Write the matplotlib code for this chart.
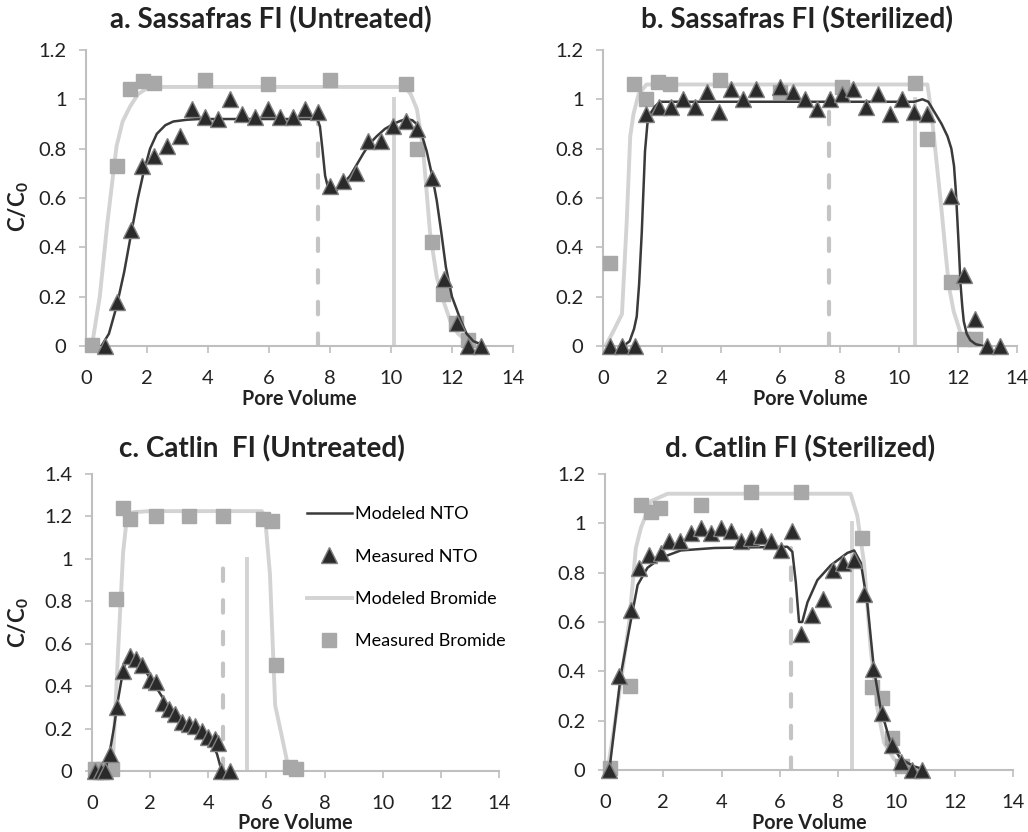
import matplotlib
matplotlib.use("Agg")
import matplotlib.pyplot as plt

plt.rcParams['font.family'] = ['Lato', 'DejaVu Sans']
plt.rcParams['mathtext.fontset'] = 'custom'
plt.rcParams['mathtext.rm'] = 'Lato'
plt.rcParams['mathtext.bf'] = 'Lato:bold'

# ---- a. Sassafras FI (Untreated) ----
a_nto_x = [0.63, 1.03, 1.48, 1.83, 2.23, 2.67, 3.08, 3.49, 3.89, 4.32, 4.71, 5.13, 5.54, 5.96,
           6.36, 6.78, 7.18, 7.62, 8.0, 8.44, 8.85, 9.26, 9.66, 10.08, 10.48, 10.86, 11.33,
           11.74, 12.15, 12.54, 12.94]
a_nto_y = [0, 0.18, 0.47, 0.73, 0.77, 0.81, 0.85, 0.96, 0.93, 0.92, 1.0, 0.94, 0.93, 0.96,
           0.93, 0.93, 0.96, 0.95, 0.65, 0.67, 0.70, 0.83, 0.83, 0.89, 0.91, 0.88, 0.68,
           0.27, 0.095, 0, 0]
a_br_x = [0.19, 1.03, 1.44, 1.86, 2.23, 3.9, 5.96, 8.0, 10.48, 10.86, 11.33, 11.71, 12.12, 12.54]
a_br_y = [0.005, 0.73, 1.04, 1.075, 1.065, 1.08, 1.06, 1.08, 1.06, 0.80, 0.42, 0.21, 0.095, 0.025]
a_mod_nto_x = [0.5, 0.75, 1.0, 1.25, 1.5, 1.7, 1.88, 2.1, 2.32, 2.6, 2.86, 3.3, 3.74, 5.0, 6.5,
               7.5, 7.6, 7.67, 7.75, 7.84, 7.92, 8.0, 8.2, 8.45, 8.66, 8.9, 9.09, 9.3, 9.53,
               9.8, 10.08, 10.3, 10.5, 10.7, 10.84, 11.0, 11.17, 11.35, 11.5, 11.65, 11.8,
               12.0, 12.15, 12.3, 12.48, 12.7, 12.9]
a_mod_nto_y = [0, 0.05, 0.16, 0.3, 0.47, 0.6, 0.70, 0.8, 0.86, 0.895, 0.91, 0.917, 0.92, 0.92,
               0.92, 0.92, 0.915, 0.89, 0.8, 0.69, 0.65, 0.63, 0.63, 0.66, 0.69, 0.74, 0.78,
               0.82, 0.85, 0.88, 0.90, 0.912, 0.92, 0.915, 0.90, 0.86, 0.79, 0.69, 0.59,
               0.46, 0.32, 0.2, 0.15, 0.1, 0.05, 0.02, 0.01]
a_mod_br_x = [0.19, 0.45, 0.7, 1.0, 1.2, 1.44, 1.7, 2.0, 2.5, 10.46, 10.65, 10.85, 11.05,
              11.28, 11.5, 11.7, 11.95, 12.2, 12.6, 13.0]
a_mod_br_y = [0, 0.2, 0.5, 0.81, 0.91, 0.97, 1.02, 1.045, 1.05, 1.05, 1.02, 0.96, 0.8,
              0.46, 0.28, 0.19, 0.1, 0.05, 0.01, 0]
a_dash_x = 7.62
a_solid_x = 10.1

# ---- b. Sassafras FI (Sterilized) ----
b_nto_x = [0.22, 0.64, 1.08, 1.47, 1.89, 2.31, 2.70, 3.12, 3.53, 3.93, 4.34, 4.75, 5.16, 6.0,
           6.41, 6.84, 7.25, 7.68, 8.07, 8.46, 8.88, 9.3, 9.71, 10.11, 10.53, 10.94, 11.78,
           12.2, 12.59, 13.0, 13.43]
b_nto_y = [0, 0, 0, 0.94, 0.97, 0.97, 1.0, 0.97, 1.03, 0.95, 1.04, 1.0, 1.04, 1.05,
           1.03, 1.0, 0.96, 1.0, 1.02, 1.04, 0.97, 1.02, 0.94, 1.0, 0.95, 0.94, 0.61,
           0.29, 0.11, 0, 0]
b_br_x = [0.22, 1.05, 1.47, 1.87, 2.26, 3.96, 6.0, 8.07, 10.55, 10.97, 11.78, 12.2, 12.59]
b_br_y = [0.335, 1.06, 1.0, 1.07, 1.06, 1.08, 1.03, 1.05, 1.065, 0.84, 0.26, 0.027, 0.027]
b_mod_nto_x = [0.69, 0.9, 1.05, 1.14, 1.22, 1.31, 1.42, 1.5, 1.59, 1.75, 1.92, 2.3, 5.0, 8.0,
               10.53, 10.8, 11.0, 11.2, 11.45, 11.65, 11.78, 11.87, 11.93, 11.98, 12.04,
               12.09, 12.15, 12.2, 12.3, 12.42, 12.6, 12.87]
b_mod_nto_y = [0, 0.02, 0.07, 0.12, 0.25, 0.46, 0.79, 0.9, 0.94, 0.97, 0.99, 0.99, 0.99, 0.99,
               0.99, 1.0, 0.99, 0.95, 0.9, 0.85, 0.8, 0.73, 0.63, 0.52, 0.38, 0.25, 0.16,
               0.1, 0.05, 0.024, 0.008, 0]
b_mod_br_x = [0.08, 0.35, 0.64, 0.8, 0.92, 1.03, 1.2, 1.47, 2.0, 10.97, 11.1, 11.25, 11.45,
              11.6, 11.7, 11.86, 12.1, 12.27]
b_mod_br_y = [0, 0.06, 0.13, 0.5, 0.85, 0.94, 1.02, 1.06, 1.06, 1.06, 0.95, 0.78, 0.55,
              0.36, 0.24, 0.14, 0.05, 0.01]
b_dash_x = 7.65
b_solid_x = 10.55

# ---- c. Catlin FI (Untreated) ----
c_nto_x = [0.1, 0.3, 0.45, 0.61, 0.86, 1.07, 1.3, 1.5, 1.73, 1.98, 2.2, 2.43, 2.64, 2.86, 3.09,
           3.32, 3.55, 3.77, 3.99, 4.22, 4.34, 4.45, 4.76]
c_nto_y = [0, 0, 0, 0.08, 0.30, 0.47, 0.54, 0.53, 0.50, 0.43, 0.42, 0.32, 0.29, 0.27, 0.23,
           0.22, 0.21, 0.19, 0.16, 0.15, 0.13, 0, 0]
c_br_x = [0.1, 0.36, 0.69, 0.82, 1.07, 1.32, 2.2, 3.34, 4.5, 5.88, 6.18, 6.33, 6.81, 7.03]
c_br_y = [0.01, 0.008, 0.01, 0.81, 1.24, 1.19, 1.20, 1.20, 1.20, 1.19, 1.18, 0.50, 0.02, 0.008]
c_mod_nto_x = [0.0, 0.45, 0.61, 0.75, 0.9, 1.09, 1.3, 1.64, 2.09, 2.55, 3.23, 3.8, 4.14, 4.3,
               4.42, 4.48]
c_mod_nto_y = [0, 0, 0.09, 0.2, 0.34, 0.49, 0.54, 0.51, 0.42, 0.32, 0.23, 0.18, 0.13, 0.08,
               0.02, 0]
c_mod_br_x = [0.0, 0.7, 0.9, 1.07, 1.18, 1.41, 2.0, 5.84, 5.95, 6.12, 6.3, 6.52, 6.75, 6.86]
c_mod_br_y = [0, 0, 0.57, 1.03, 1.17, 1.22, 1.225, 1.225, 1.2, 0.93, 0.31, 0.17, 0.02, 0]
c_dash_x = 4.5
c_solid_x = 5.33

# ---- d. Catlin FI (Sterilized) ----
d_nto_x = [0.15, 0.47, 0.89, 1.18, 1.52, 1.92, 2.21, 2.58, 2.95, 3.29, 3.63, 3.98, 4.32, 4.66,
           5.0, 5.35, 5.69, 6.03, 6.41, 6.74, 7.12, 7.47, 7.84, 8.18, 8.53, 8.89, 9.21, 9.52,
           9.86, 10.17, 10.55, 10.89]
d_nto_y = [0, 0.38, 0.65, 0.82, 0.87, 0.88, 0.93, 0.93, 0.96, 0.98, 0.96, 0.98, 0.97, 0.93,
           0.94, 0.95, 0.93, 0.89, 0.97, 0.55, 0.63, 0.695, 0.81, 0.84, 0.85, 0.715, 0.41, 0.23,
           0.10, 0.034, 0, 0]
d_br_x = [0.18, 0.87, 1.23, 1.58, 1.9, 3.29, 5.0, 6.74, 8.83, 9.18, 9.52, 9.86, 10.21]
d_br_y = [0.007, 0.34, 1.075, 1.047, 1.063, 1.075, 1.126, 1.129, 0.94, 0.336, 0.29, 0.13, 0.015]
d_mod_nto_x = [0.15, 0.55, 0.83, 1.12, 1.46, 1.92, 2.6, 3.75, 6.26, 6.43, 6.55, 6.66, 6.77,
               6.95, 7.29, 7.75, 8.32, 8.55, 8.78, 9.0, 9.23, 9.46, 9.8, 10.15, 10.6, 10.83]
d_mod_nto_y = [0, 0.39, 0.57, 0.75, 0.82, 0.86, 0.89, 0.90, 0.905, 0.885, 0.76, 0.60, 0.60,
               0.68, 0.77, 0.83, 0.88, 0.89, 0.84, 0.68, 0.41, 0.25, 0.11, 0.045, 0.015, 0.007]
d_mod_br_x = [0.09, 0.43, 0.83, 1.06, 1.23, 1.58, 2.15, 8.43, 8.66, 8.89, 9.12, 9.35, 9.58,
              9.92, 10.26, 10.5]
d_mod_br_y = [0, 0.26, 0.60, 0.90, 0.98, 1.09, 1.12, 1.12, 1.03, 0.84, 0.49, 0.25, 0.11,
              0.045, 0.01, 0]
d_dash_x = 6.4
d_solid_x = 8.49

titles = ['a. Sassafras FI (Untreated)', 'b. Sassafras FI (Sterilized)',
          'c. Catlin  FI (Untreated)', 'd. Catlin FI (Sterilized)']
ymaxes = [1.2, 1.2, 1.4, 1.2]
dash_tops = [1.0, 1.0, 1.0, 0.9]
x_ticks = [0, 2, 4, 6, 8, 10, 12, 14]

dark = '#3a3a3a'
light = '#d3d3d3'
sq = '#a8a8a8'
axcol = '#bfbfbf'

fig = plt.figure(figsize=(10.28, 8.32), dpi=100)
boxes = [[0.0837, 0.584, 0.4153, 0.356], [0.5866, 0.584, 0.4027, 0.356],
         [0.0895, 0.0733, 0.3959, 0.357], [0.5885, 0.0745, 0.3968, 0.3558]]
title_pos = [(271, 20), (797, 20), (262, 449), (800, 449)]
xlabel_base = [405, 405, 829, 829]
ylabel_frac = [0.47, 0.50]

data = [
    (a_nto_x, a_nto_y, a_br_x, a_br_y, a_mod_nto_x, a_mod_nto_y, a_mod_br_x, a_mod_br_y, a_dash_x, a_solid_x),
    (b_nto_x, b_nto_y, b_br_x, b_br_y, b_mod_nto_x, b_mod_nto_y, b_mod_br_x, b_mod_br_y, b_dash_x, b_solid_x),
    (c_nto_x, c_nto_y, c_br_x, c_br_y, c_mod_nto_x, c_mod_nto_y, c_mod_br_x, c_mod_br_y, c_dash_x, c_solid_x),
    (d_nto_x, d_nto_y, d_br_x, d_br_y, d_mod_nto_x, d_mod_nto_y, d_mod_br_x, d_mod_br_y, d_dash_x, d_solid_x),
]

for i, (nx, ny, bx, by, mnx, mny, mbx, mby, dx, sx) in enumerate(data):
    ax = fig.add_axes(boxes[i])
    ax.plot([dx, dx], [0, dash_tops[i]], color='#c4c4c4', lw=3.0, dashes=(3.0, 4.6),
            dash_capstyle='round', zorder=1)
    ax.plot([sx, sx], [0, 1.0], color=light, lw=2.8, zorder=1)
    l_br, = ax.plot(mbx, mby, color=light, lw=2.8, zorder=2, label='Modeled Bromide')
    m_br, = ax.plot(bx, by, 's', color=sq, ms=10, mec=sq, ls='none', zorder=3,
                    clip_on=False, label='Measured Bromide')
    l_nto, = ax.plot(mnx, mny, color=dark, lw=1.8, zorder=4, label='Modeled NTO')
    m_nto, = ax.plot(nx, ny, '^', color='#2a2a2a', ms=11, mec='#808080', mew=1.0,
                     ls='none', zorder=5, clip_on=False, label='Measured NTO')

    ax.set_xlim(0, 14)
    ax.set_ylim(0, ymaxes[i])
    ax.set_xticks(x_ticks)
    ax.set_xticklabels([str(t) for t in x_ticks])
    yt = [round(0.2 * k, 1) for k in range(int(round(ymaxes[i] / 0.2)) + 1)]
    ax.set_yticks(yt)
    ax.set_yticklabels(['%g' % v for v in yt])
    for s in ['top', 'right']:
        ax.spines[s].set_visible(False)
    for s in ['left', 'bottom']:
        ax.spines[s].set_color(axcol)
        ax.spines[s].set_linewidth(1.5)
    ax.tick_params(axis='both', colors=axcol, labelcolor='#222222', labelsize=14.5,
                   length=5, width=1.2)
    ax.tick_params(axis='y', pad=9)
    ax.tick_params(axis='x', pad=12)
    ax.set_xlabel('Pore Volume', fontsize=14.2, fontweight='bold', color='#222222')
    ax.xaxis.label.set_verticalalignment('baseline')
    pos = boxes[i]
    ax.xaxis.set_label_coords(0.5, ((1 - xlabel_base[i] / 832) - pos[1]) / pos[3])
    if i in (0, 2):
        ax.set_ylabel(r'$\mathbf{C/C_0}$', fontsize=16, color='#222222')
        ax.yaxis.set_label_coords((31 / 1028 - pos[0]) / pos[2], ylabel_frac[i // 2])
    fig.text(title_pos[i][0] / 1028, 1 - title_pos[i][1] / 832, titles[i], ha='center',
             va='center', fontsize=20, fontweight='bold', color='#222222')

    if i == 2:
        ax.legend([l_nto, m_nto, l_br, m_br],
                  ['Modeled NTO', 'Measured NTO', 'Modeled Bromide', 'Measured Bromide'],
                  loc='upper left', bbox_to_anchor=(0.51, 0.915), frameon=False,
                  fontsize=13, handlelength=2.5, handletextpad=0.15, labelspacing=1.45,
                  borderaxespad=0)

fig.savefig('out.png', dpi=100)
